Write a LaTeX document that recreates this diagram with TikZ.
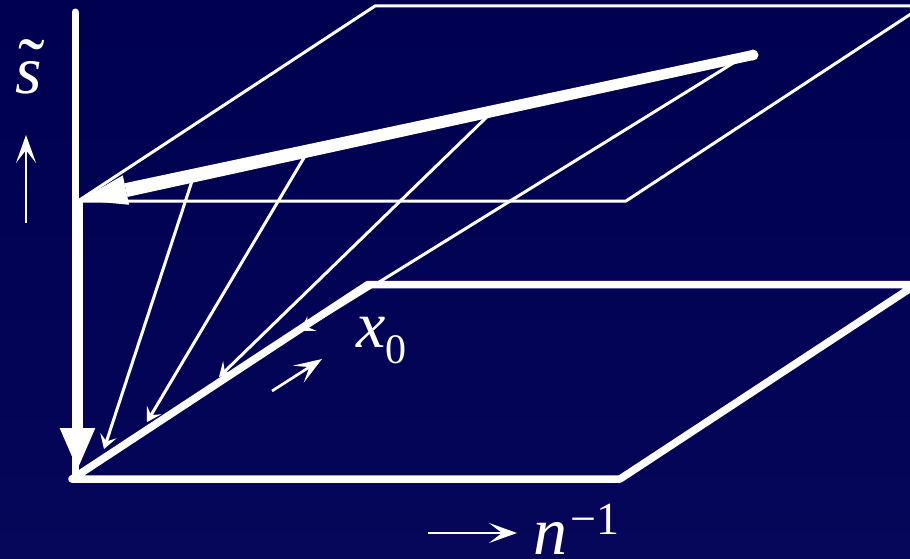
\documentclass[tikz,border=0pt]{standalone}
\usepackage{fontspec}
\setmainfont{Liberation Serif}
\newfontfamily\tms{Liberation Serif}
\usetikzlibrary{arrows.meta,calc}
\definecolor{bgtop}{RGB}{0,0,80}
\definecolor{bgbot}{RGB}{6,6,90}
\tikzset{
  thinln/.style={white, line width=3pt},
  thickln/.style={white, line width=7.5pt, line join=round, line cap=round},
  flowarrow/.style={thinln, -{Stealth[length=14pt,width=17pt,inset=6pt]}},
  glypharrow/.style={white, line width=2.7pt, -{Stealth[length=28pt,width=20pt,inset=13pt]}},
  lbl/.style={text=white, inner sep=0pt, font=\tms\itshape},
}
\begin{document}
\begin{tikzpicture}[x=1pt,y=-1pt]
\shade[top color=bgtop,bottom color=bgbot] (0,0) rectangle (910,559);
\path[use as bounding box] (0,0) rectangle (910,559);
\clip (0,0) rectangle (910,559);
% bottom plane
\coordinate (O) at (72,479);
\coordinate (BR) at (620,479);
\coordinate (TL) at (368,284.5);
\coordinate (TR) at (916,284.5);
% upper plane
\coordinate (U) at (78,201);
\coordinate (UBR) at (626,201);
\coordinate (UTL) at (375,6);
\coordinate (UTR) at (923,6);
% axis
\coordinate (Atop) at (75,12);
\coordinate (Abot) at (75,478);
\coordinate (Vs) at (77.5,200);
\coordinate (Vt) at (77.5,471);
% upper thick arrow
\coordinate (R) at (753,55);
\coordinate (T) at (80,200);
\coordinate (B) at ($(T)!47pt!(R)$);
% flow lines
\coordinate (p1) at (194,175); \coordinate (q1) at (104,449);
\coordinate (p2) at (308,151); \coordinate (q2) at (147,422);
\coordinate (p3) at (493,111); \coordinate (q3) at (219,377);
\coordinate (p4) at (743,57);  \coordinate (q4) at (300,331);

\draw[thinln] (U) -- (UTL) -- (UTR) -- (UBR) -- (U);
\draw[thickln] (TR) -- (TL) -- (O) -- (BR) -- (TR);
\draw[white,line width=7pt,line cap=round] (Atop) -- (Abot);
\draw[white,line width=11pt,-{Triangle[length=43pt,width=32pt]}] (Vs) -- (Vt);

\fill[white] ($(R)!5pt!90:(T)$) -- ($(R)!5pt!-90:(T)$) -- ($(B)!7pt!-90:(T)$) -- ($(B)!7pt!90:(T)$) -- cycle;
\fill[white] (R) circle[radius=5.5pt];
\fill[white] (T) -- ($(B)!15pt!90:(T)$) -- ($(B)!15pt!-90:(T)$) -- cycle;

\draw[flowarrow] (p1) -- (q1);
\draw[flowarrow] (p2) -- (q2);
\draw[flowarrow] (p3) -- (q3);
\draw[flowarrow] (p4) -- (q4);

\coordinate (ua) at (26,223); \coordinate (ub) at (26,135);
\coordinate (ra) at (428,533); \coordinate (rb) at (517,533);
\coordinate (xa) at (272,391); \coordinate (xb) at (322,359);
\draw[glypharrow] (ua) -- (ub);
\draw[glypharrow] (ra) -- (rb);
\draw[glypharrow] (xa) -- (xb);

\node[lbl, anchor=base west] (s) at (15,94) {\fontsize{68}{68}\selectfont\rlap{\kern3pt\fontsize{80}{80}\selectfont\upshape ˜}s};
\node[lbl, anchor=base west] (x0) at (356,347) {\fontsize{66}{66}\selectfont x\raisebox{-16pt}{\fontsize{42}{42}\selectfont\upshape 0}};
\node[lbl, anchor=base west] (n) at (533,554) {\fontsize{68}{68}\selectfont n\kern3pt\raisebox{20pt}{\fontsize{46}{46}\selectfont\upshape −1}};
\end{tikzpicture}
\end{document}
